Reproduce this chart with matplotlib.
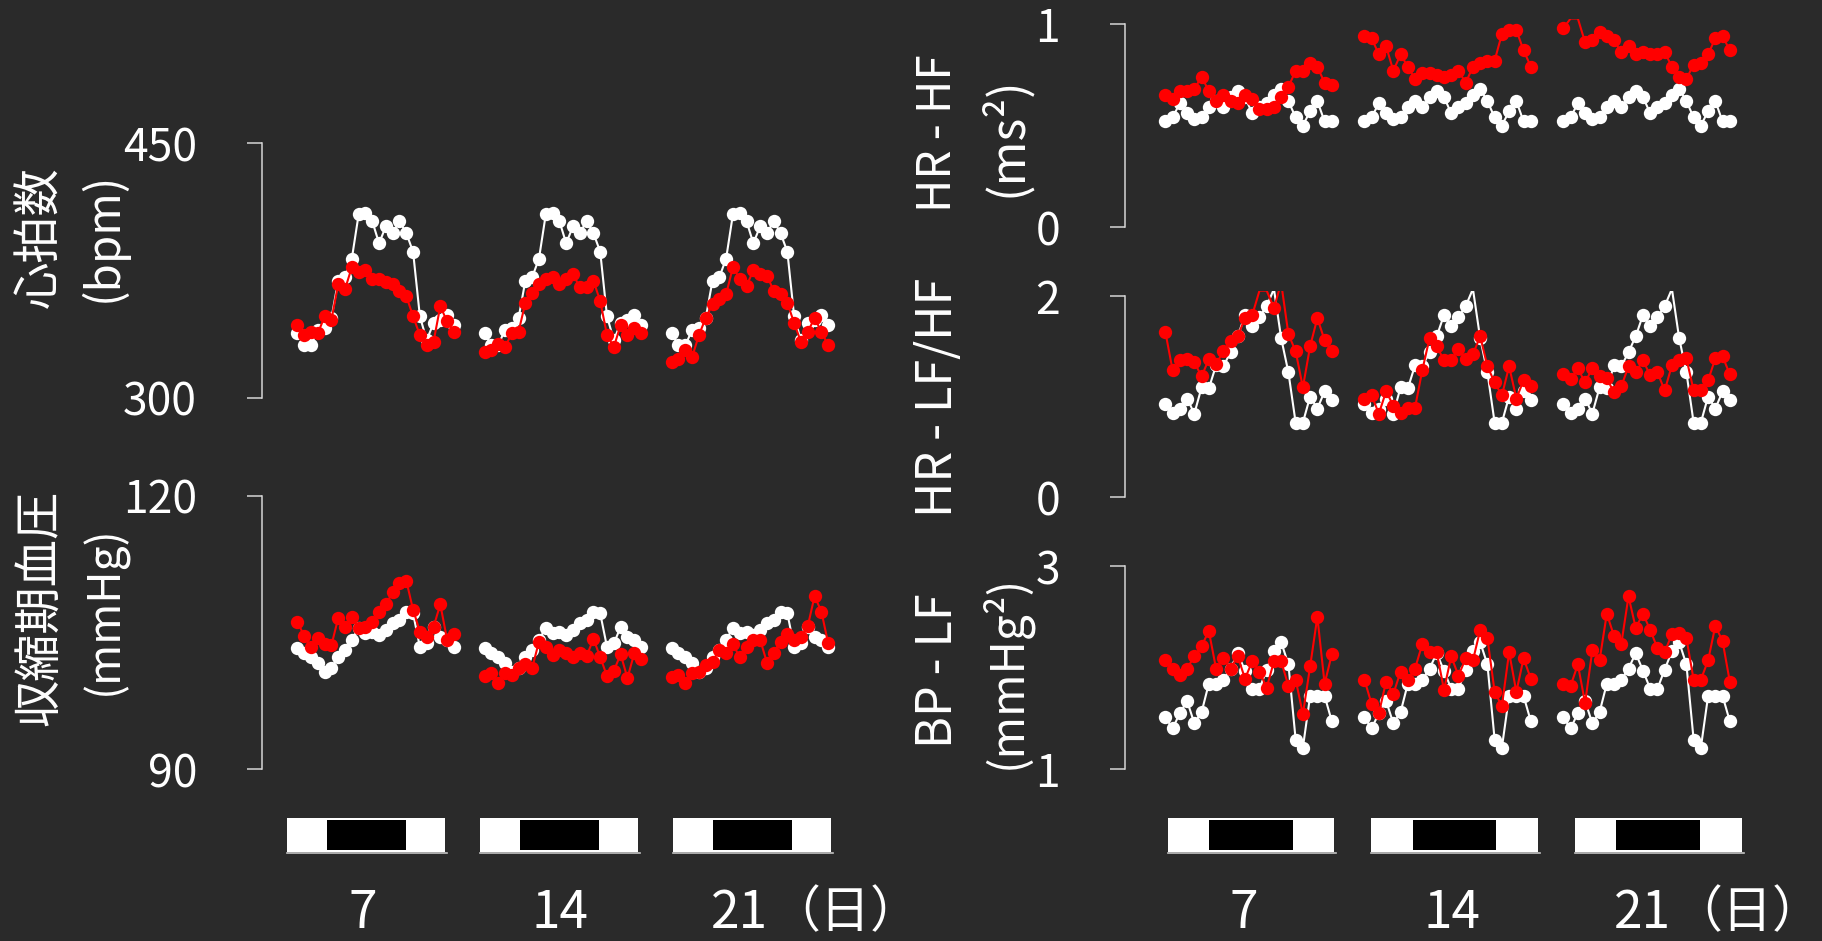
import numpy as np
import matplotlib.pyplot as plt
from matplotlib.patches import Rectangle

plt.rcParams['font.family'] = ['Liberation Sans Narrow', 'Noto Sans CJK JP', 'DejaVu Sans']
CJK = 'Noto Sans CJK JP'

W, H, DPI = 1822, 941, 100
BG = '#2a2a2a'
AXIS = '#d6d6d6'
CTRL = '#ffffff'
TREAT = '#ff0000'

HOURS = np.arange(24)
DAY_GAP = 27.5        # hours from one day block to the next on the data axes
BAR_GAP = 29.3        # same, for the light/dark bars
DARK_START, DARK_END = 6, 18

# heart rate (bpm)
hr_ctrl = [338, 331, 331, 340, 341, 347, 369, 371, 382, 408, 409, 404,
           391, 401, 397, 404, 397, 386, 348, 334, 344, 346, 349, 343]
hr_treat = [
    [343, 337, 339, 338, 348, 346, 367, 364, 377, 374, 375, 370,
     370, 368, 367, 363, 360, 348, 337, 331, 333, 354, 345, 339],
    [327, 328, 332, 330, 338, 339, 356, 362, 367, 370, 371, 367,
     370, 373, 365, 365, 369, 357, 337, 330, 343, 337, 341, 338],
    [321, 323, 328, 324, 337, 347, 355, 358, 361, 377, 370, 366,
     375, 373, 372, 363, 361, 356, 344, 333, 339, 347, 339, 331],
]

# systolic blood pressure (mmHg)
sbp_ctrl = [103.3, 102.7, 102.3, 101.6, 100.7, 101.1, 102.3, 103.1, 104.2, 105.5, 104.9, 105.1,
            104.7, 105.3, 106.0, 106.4, 107.3, 107.1, 103.4, 103.8, 105.6, 104.5, 104.2, 103.4]
sbp_treat = [
    [106.2, 104.6, 103.4, 104.4, 103.7, 103.6, 106.6, 105.6, 106.7, 105.5, 105.6, 106.2,
     107.3, 108.1, 109.4, 110.4, 110.7, 107.5, 105.1, 104.5, 105.6, 108.1, 104.2, 104.8],
    [100.2, 100.5, 99.5, 100.5, 100.3, 101.1, 101.5, 101.1, 104.0, 103.4, 102.5, 103.1,
     102.7, 102.3, 102.7, 102.4, 104.3, 102.3, 100.2, 100.8, 102.6, 100.0, 102.7, 102.1],
    [100.1, 100.3, 99.5, 100.5, 100.7, 101.4, 101.8, 103.1, 102.7, 103.7, 102.3, 103.4,
     104.2, 104.2, 101.7, 102.8, 104.0, 104.8, 104.2, 104.5, 105.7, 109.0, 107.3, 103.8],
]

# HR-HF power (ms^2)
hf_ctrl = [0.52, 0.54, 0.61, 0.56, 0.53, 0.54, 0.59, 0.62, 0.59, 0.64, 0.67, 0.64,
           0.56, 0.59, 0.61, 0.65, 0.68, 0.62, 0.54, 0.50, 0.57, 0.62, 0.52, 0.52]
hf_treat = [
    [0.65, 0.63, 0.67, 0.67, 0.68, 0.74, 0.67, 0.62, 0.65, 0.62, 0.61, 0.65,
     0.63, 0.58, 0.58, 0.59, 0.64, 0.69, 0.77, 0.77, 0.81, 0.79, 0.71, 0.70],
    [0.94, 0.93, 0.85, 0.89, 0.77, 0.85, 0.79, 0.73, 0.76, 0.76, 0.75, 0.74,
     0.75, 0.77, 0.71, 0.79, 0.81, 0.82, 0.82, 0.95, 0.97, 0.97, 0.87, 0.79],
    [0.98, 1.027, 1.027, 0.91, 0.92, 0.96, 0.94, 0.92, 0.86, 0.89, 0.85, 0.86,
     0.85, 0.85, 0.86, 0.79, 0.74, 0.73, 0.80, 0.81, 0.85, 0.93, 0.94, 0.87],
]

# HR-LF/HF ratio
lfhf_ctrl = [0.93, 0.84, 0.88, 0.98, 0.83, 1.09, 1.08, 1.31, 1.30, 1.44, 1.60, 1.81,
             1.70, 1.79, 1.90, 2.07, 1.58, 1.24, 0.74, 0.74, 1.00, 0.88, 1.05, 0.97]
lfhf_treat = [
    [1.64, 1.26, 1.36, 1.37, 1.34, 1.20, 1.37, 1.32, 1.45, 1.55, 1.60, 1.78,
     1.81, 2.053, 2.053, 1.88, 2.13, 1.62, 1.45, 1.09, 1.50, 1.78, 1.56, 1.45],
    [0.98, 1.01, 0.83, 1.05, 0.91, 0.84, 0.89, 0.89, 1.26, 1.58, 1.50, 1.36,
     1.36, 1.47, 1.37, 1.42, 1.60, 1.30, 1.14, 1.01, 1.30, 0.98, 1.16, 1.10],
    [1.22, 1.17, 1.28, 1.14, 1.28, 1.20, 1.18, 1.04, 1.10, 1.30, 1.24, 1.36,
     1.21, 1.24, 1.06, 1.31, 1.36, 1.38, 1.06, 1.06, 1.16, 1.38, 1.40, 1.22],
]

# BP-LF power (mmHg^2)
bplf_ctrl = [1.51, 1.40, 1.55, 1.67, 1.45, 1.56, 1.84, 1.84, 1.88, 1.99, 2.14, 1.97,
             1.79, 1.79, 1.98, 2.16, 2.25, 2.03, 1.29, 1.21, 1.72, 1.72, 1.72, 1.47]
bplf_treat = [
    [2.07, 1.99, 1.93, 1.99, 2.11, 2.21, 2.36, 1.99, 2.09, 1.99, 2.11, 1.89,
     2.06, 1.96, 1.80, 2.06, 2.06, 1.82, 1.88, 1.54, 2.01, 2.50, 1.84, 2.13],
    [1.88, 1.64, 1.55, 1.86, 1.74, 1.96, 1.88, 1.99, 2.23, 2.15, 2.15, 1.78,
     2.11, 1.92, 2.09, 2.07, 2.37, 2.29, 1.76, 1.62, 2.15, 1.76, 2.09, 1.89],
    [1.84, 1.82, 2.03, 1.65, 2.17, 2.07, 2.53, 2.31, 2.23, 2.70, 2.39, 2.53,
     2.37, 2.19, 2.15, 2.33, 2.34, 2.29, 1.88, 1.88, 2.07, 2.41, 2.26, 1.86],
]

DAY_LABELS = ['7', '14', '21']
DAY_UNIT = '（日）'

# horizontal layout of each column, in pixels
COLS = {
    'left':  dict(spine=262, right=850, x0=297.4, pxh=6.805, bar0=287.0, bar_pxh=6.59,
                  labels=[363, 560, 740], unit_left=770),
    'right': dict(spine=1125, right=1765, x0=1165.4, pxh=7.236, bar0=1167.5, bar_pxh=6.95,
                  labels=[1244, 1452, 1643], unit_left=1672),
}


def px_axes(fig, left, top, right, bottom):
    return fig.add_axes([left / W, 1 - bottom / H, (right - left) / W, (bottom - top) / H])


def fig_text(fig, x, y, s, **kw):
    fig.text(x / W, 1 - y / H, s, color='white', **kw)


def side_title(fig, x, y, s, size, **kw):
    fig_text(fig, x, y, s, rotation=90, rotation_mode='anchor',
             ha='center', va='center', fontsize=size, **kw)


def data_panel(fig, col, ctrl, treat, lo, hi, p_lo, p_hi, top_px):
    c = COLS[col]
    ax = px_axes(fig, c['spine'], top_px, c['right'], p_lo)
    per_px = (hi - lo) / (p_lo - p_hi)
    ytop = hi + (p_hi - top_px) * per_px
    ax.set_ylim(lo, ytop)
    ax.set_xlim((c['spine'] - c['x0']) / c['pxh'], (c['right'] - c['x0']) / c['pxh'])
    ax.patch.set_visible(False)
    for s in ('top', 'right', 'bottom'):
        ax.spines[s].set_visible(False)
    ax.spines['left'].set_bounds(lo, hi)
    ax.spines['left'].set_color(AXIS)
    ax.spines['left'].set_linewidth(1.1)
    ax.set_xticks([])
    ax.set_yticks([lo, hi])
    ax.set_yticklabels([f'{lo:g}', f'{hi:g}'])
    ax.tick_params(axis='y', direction='out', length=10.8, width=1.1, color=AXIS,
                   labelcolor='white', labelsize=32, pad=36)

    for d in range(3):
        x = d * DAY_GAP + HOURS
        for vals, color, z in ((ctrl, CTRL, 2), (treat[d], TREAT, 3)):
            v = np.asarray(vals, dtype=float)
            ax.plot(x, v, color=color, lw=1.5, zorder=z)
            # off-scale points keep their line but lose the marker
            shown = np.where((v >= lo) & (v <= ytop), v, np.nan)
            ax.plot(x, shown, 'o', color=color, ms=9.6, mew=0, zorder=z)
    return ax


def light_dark_bars(fig, col):
    c = COLS[col]
    left = c['bar0'] - 5
    ax = px_axes(fig, left, 812, left + 600, 858)
    ax.set_xlim(-5 / c['bar_pxh'], 595 / c['bar_pxh'])
    ax.set_ylim(0, 1)
    ax.axis('off')
    for d in range(3):
        s = d * BAR_GAP
        ax.add_patch(Rectangle((s, 0.13), 24, 0.74, fc='white', ec='none'))
        ax.add_patch(Rectangle((s + DARK_START, 0.174), DARK_END - DARK_START, 0.652,
                               fc='black', ec='none'))
        ax.plot([s, s + 24.3], [0.11, 0.11], color='#c4c4c4', lw=1.2)
    for x, lab in zip(c['labels'], DAY_LABELS):
        fig_text(fig, x, 913, lab, ha='center', va='center', fontsize=37)
    fig_text(fig, c['unit_left'], 913, DAY_UNIT, ha='left', va='center',
             fontsize=36, family=CJK)


fig = plt.figure(figsize=(W / DPI, H / DPI), dpi=DPI, facecolor=BG)

data_panel(fig, 'left', hr_ctrl, hr_treat, 300, 450, 398, 143, 143)
data_panel(fig, 'left', sbp_ctrl, sbp_treat, 90, 120, 769, 496, 496)
data_panel(fig, 'right', hf_ctrl, hf_treat, 0, 1, 227, 24, 18.9)
data_panel(fig, 'right', lfhf_ctrl, lfhf_treat, 0, 2, 497, 296, 291)
data_panel(fig, 'right', bplf_ctrl, bplf_treat, 1, 3, 769, 566, 566)

light_dark_bars(fig, 'left')
light_dark_bars(fig, 'right')

# axis titles, two lines each
side_title(fig, 40, 237, '心拍数', 34, family=CJK)
side_title(fig, 103, 237, '(bpm)', 33)
side_title(fig, 41, 608, '収縮期血圧', 34, family=CJK)
side_title(fig, 104, 610, '(mmHg)', 32)
side_title(fig, 938, 133, 'HR - HF', 33)
side_title(fig, 1006, 137, '(ms²)', 35)
side_title(fig, 938, 397, 'HR - LF/HF', 35)
side_title(fig, 938, 671, 'BP - LF', 35)
side_title(fig, 1006, 672, '(mmHg²)', 33)

fig.savefig('out.png', dpi=DPI, facecolor=BG)
